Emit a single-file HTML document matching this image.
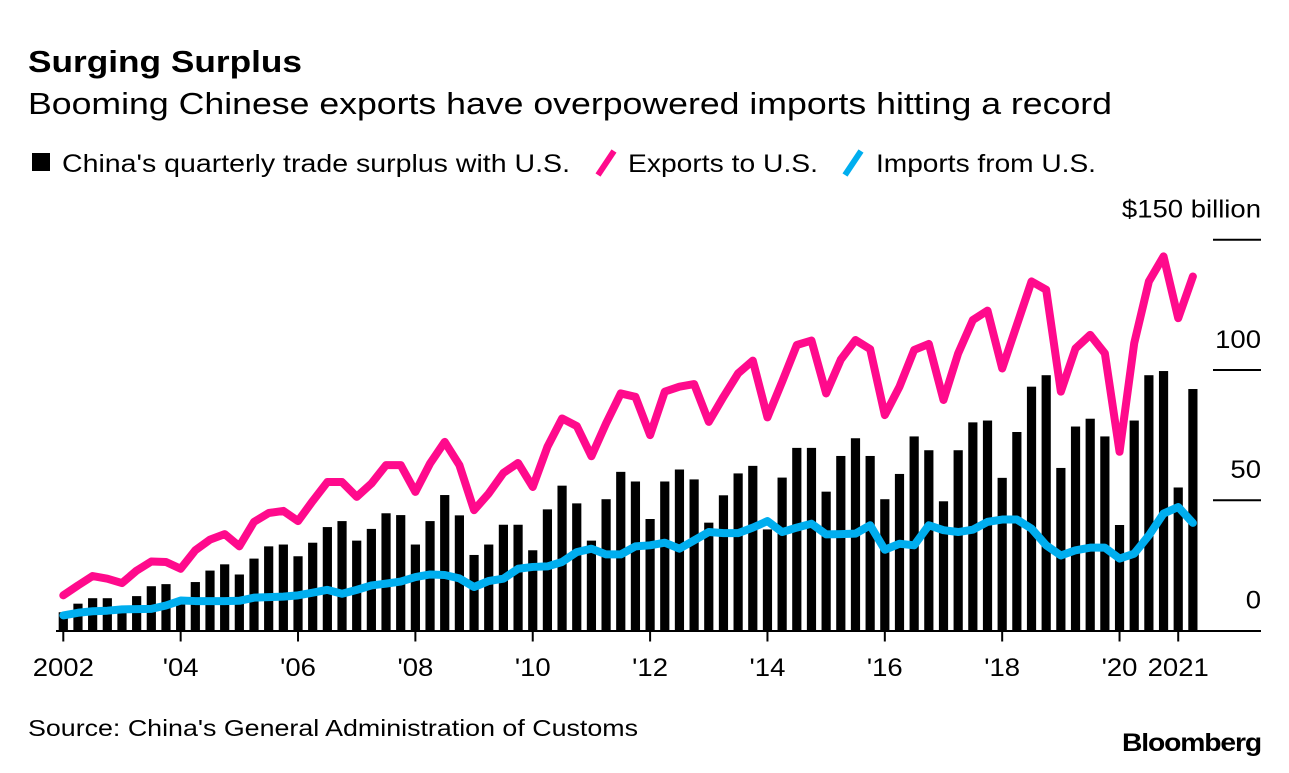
<!DOCTYPE html>
<html><head><meta charset="utf-8">
<style>
body{margin:0;background:#fff;width:1289px;height:768px;overflow:hidden;font-family:"Liberation Sans",sans-serif;}
svg text{font-family:"Liberation Sans",sans-serif;}
</style></head>
<body>
<svg width="1289" height="768">
<text x="28" y="72" font-size="31" font-weight="bold" fill="#000" textLength="274" lengthAdjust="spacingAndGlyphs">Surging Surplus</text>
<text x="28" y="114" font-size="31" fill="#000" textLength="1084" lengthAdjust="spacingAndGlyphs">Booming Chinese exports have overpowered imports hitting a record</text>
<g>
<rect x="32" y="153" width="18" height="18" fill="#000"/>
<text x="62" y="172" font-size="25" textLength="508" lengthAdjust="spacingAndGlyphs">China's quarterly trade surplus with U.S.</text>
<line x1="598" y1="175" x2="614" y2="151" stroke="#ff0a8c" stroke-width="6"/>
<text x="628" y="172" font-size="25" textLength="190" lengthAdjust="spacingAndGlyphs">Exports to U.S.</text>
<line x1="845" y1="175" x2="861" y2="151" stroke="#00aeef" stroke-width="6"/>
<text x="876" y="172" font-size="25" textLength="220" lengthAdjust="spacingAndGlyphs">Imports from U.S.</text>
</g>
<g id="plot"></g>
<text x="28" y="736" font-size="23" textLength="610" lengthAdjust="spacingAndGlyphs">Source: China's General Administration of Customs</text>
<text x="1261" y="751" font-size="25" font-weight="bold" text-anchor="end" textLength="139" lengthAdjust="spacingAndGlyphs" letter-spacing="-1">Bloomberg</text>
</svg>
<script>
const surplus=[7,10.3,12.4,12.4,8,13.2,17,17.8,11.5,18.6,23,25.4,21.5,27.6,32.3,33,28.5,33.7,39.7,42,34.5,39,45,44.3,33,42,52,44.2,29,33,40.6,40.6,30.8,46.5,55.6,48.8,34.5,50.4,60.9,57.2,42.8,57.2,61.8,58,41.4,51.9,60.3,63.2,38.8,58.7,70.1,70.1,53.3,67,73.8,67,50.4,60.1,74.5,69.2,49.6,69.2,79.9,80.6,58.6,76.2,93.6,98,62.4,78.3,81.3,74.5,40.5,80.6,98,99.6,54.9,92.7];
const exportsUS=[13.5,17.3,20.9,19.9,18.2,23,26.5,26.3,23.7,30.8,34.9,37,32.3,41.7,45.1,45.9,42,49.7,57,57,51.3,56.4,63.5,63.5,53.2,64.1,72.4,63.5,46.2,52.6,60.5,64.3,55.1,70.5,81.4,78.5,66.9,79.5,91,89.7,75,91.7,93.6,94.6,80.1,89.7,98.7,103.6,81.8,95.5,109.6,111.3,91,104,111.5,108,82.7,93.6,107.7,110,88.5,106.4,119.2,122.8,100.6,117.3,134,130.8,91.7,108.3,113.5,106.4,68.6,110.3,134,143.6,119.9,135.9];
const importsUS=[5.8,6.8,7.4,7.6,8.1,8.2,8.3,9.6,11.5,11.3,11.3,11.3,11.4,12.6,12.8,13,13.5,14.5,15.6,14.1,15.6,17.3,18,18.8,20.5,21.5,21.3,20,16.7,19,19.9,23.7,24.4,24.6,26.3,30.1,31.4,29.2,29.2,32.3,32.7,33.7,31.4,34.6,37.8,37.4,37.4,39.5,42,37.8,39.5,41,36.9,37,37.2,40.4,31,33.3,32.7,40.4,38.5,37.8,38.7,41.7,42.6,42.6,39.1,32.7,28.8,30.8,31.8,31.8,27.6,29.5,36.5,44.9,47.4,41.3];
const yTicks=[0,50,100,150];
const yTickLabels=["0","50","100","$150 billion"];
const xTickYears=[2002,2004,2006,2008,2010,2012,2014,2016,2018,2020,2021];
const xTickLabels=["2002","'04","'06","'08","'10","'12","'14","'16","'18","'20","2021"];

const NS="http://www.w3.org/2000/svg";
const plot=document.getElementById('plot');
const x0=63.3, q=14.67, y0=630.5, k=2.605;
const xq=i=>x0+i*q;
const xYear=yr=>x0+(yr-2002)*4*q;
const y=v=>y0-v*k;
function mk(tag,attrs){const e=document.createElementNS(NS,tag);for(const a in attrs)e.setAttribute(a,attrs[a]);plot.appendChild(e);return e;}

yTicks.forEach((t,j)=>{
  if(t>0){const l=mk('line',{x1:1213,x2:1261,y1:y(t),y2:y(t),stroke:'#000','stroke-width':2});
  
  }
  const tx=mk('text',{x:1261,y:y(t)-22,'font-size':25,'text-anchor':'end','transform':'translate(1261,0) scale(1.1,1) translate(-1261,0)'});
  tx.textContent=yTickLabels[j];
  
  
});
surplus.forEach((v,i)=>{
  const r=mk('rect',{x:xq(i)-4.6,y:y(v),width:9.2,height:y0-y(v),fill:'#000'});
  
  
});
const ax=mk('line',{x1:56,x2:1261,y1:y0+0.5,y2:y0+0.5,stroke:'#000','stroke-width':2});


xTickYears.forEach((yr,j)=>{
  const l=mk('line',{x1:xYear(yr),x2:xYear(yr),y1:y0,y2:y0+11,stroke:'#000','stroke-width':2});
  
  
  const cx=xYear(yr);
  const tx=mk('text',{x:cx,y:676,'font-size':25,'text-anchor':'middle','transform':'translate('+cx+',0) scale(1.1,1) translate('+(-cx)+',0)'});
  tx.textContent=xTickLabels[j];
  
  
});
function line(arr,color,name){
  const p=mk('polyline',{points:arr.map((v,i)=>xq(i)+','+y(v)).join(' '),fill:'none',stroke:color,'stroke-width':8,'stroke-linejoin':'round','stroke-linecap':'round'});
  
  
}
line(exportsUS,'#ff0a8c','exports-line');
line(importsUS,'#00aeef','imports-line');
</script>
</body></html>
